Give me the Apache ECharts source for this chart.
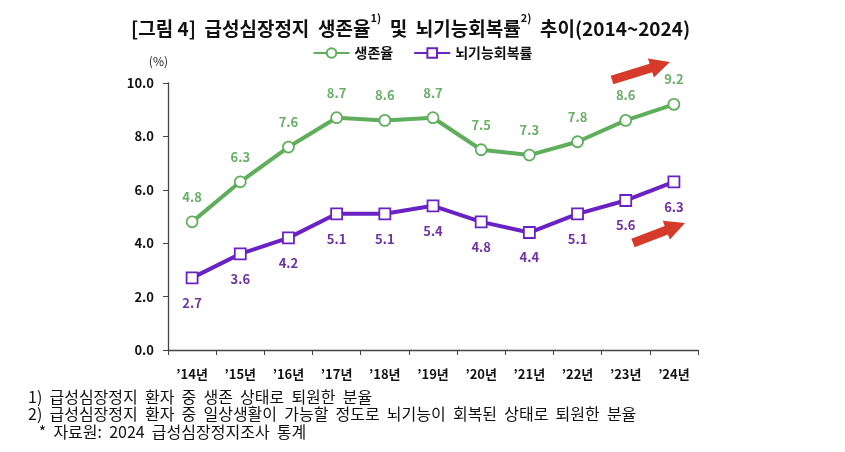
<!DOCTYPE html>
<html><head><meta charset="utf-8">
<script src="https://cdn.jsdelivr.net/npm/echarts@6/dist/echarts.min.js"></script>
<style>html,body{margin:0;padding:0;background:#fff}#c{width:845px;height:452px}</style>
</head><body><div id="c"></div>
<script>
const categories = ["’14년","’15년","’16년","’17년","’18년","’19년","’20년","’21년","’22년","’23년","’24년"];
const survival = [4.8,6.3,7.6,8.7,8.6,8.7,7.5,7.3,7.8,8.6,9.2];
const recovery = [2.7,3.6,4.2,5.1,5.1,5.4,4.8,4.4,5.1,5.6,6.3];
const yTicks = [0,2,4,6,8,10];
const seriesNames = ['생존율','뇌기능회복률'];
const notes = [
  '1)  급성심장정지  환자  중  생존  상태로  퇴원한  분율',
  '2)  급성심장정지  환자  중  일상생활이  가능할  정도로  뇌기능이  회복된  상태로  퇴원한  분율',
  '   *  자료원:  2024  급성심장정지조사  통계'
];
const FONT = '"Noto Sans CJK KR", "Noto Sans", sans-serif';
const GREEN = '#5fae5c', GREEN_T = '#6aae68', PURPLE = '#6a22c4', PURPLE_T = '#7030a0';

function arrow(x1,y1,x2,y2){
  const dx=x2-x1, dy=y2-y1, L=Math.hypot(dx,dy), ux=dx/L, uy=dy/L, nx=-uy, ny=ux;
  const sw=4.5, hw=10, hl=20;
  const bx=x2-ux*hl, by=y2-uy*hl;
  const pts=[[x1+nx*sw,y1+ny*sw],[bx+nx*sw,by+ny*sw],[bx+nx*hw,by+ny*hw],[x2,y2],[bx-nx*hw,by-ny*hw],[bx-nx*sw,by-ny*sw],[x1-nx*sw,y1-ny*sw]];
  return {type:'polygon',shape:{points:pts},style:{fill:'#d63a2a'},z:10};
}

const chart = echarts.init(document.getElementById('c'));
chart.setOption({
  backgroundColor:'#fff',
  animation:false,
  textStyle:{fontFamily:FONT},
  title:{
    text:'{a|[그림 4]  급성심장정지  생존율}{s|1)}{a|  및  뇌기능회복률}{s|2)}{a|  추이(2014~2024)}',
    left:126, top:7,
    textStyle:{rich:{
      a:{fontFamily:FONT,fontSize:19,fontWeight:'bold',color:'#111',lineHeight:26,verticalAlign:'bottom'},
      s:{fontFamily:FONT,fontSize:11,fontWeight:'bold',color:'#111',verticalAlign:'top',lineHeight:26,padding:[0,0,10,0]}
    }}
  },
  legend:{
    top:41, left:'center', itemWidth:36, itemHeight:12, itemGap:20,
    textStyle:{fontFamily:FONT,fontSize:14,fontWeight:'bold',color:'#111'},
    data:seriesNames
  },
  grid:{left:168,right:147,top:83,bottom:102,containLabel:false},
  xAxis:{
    type:'category', data:categories, boundaryGap:true,
    axisLine:{lineStyle:{color:'#444',width:1.3}},
    axisTick:{show:true,length:5,interval:0,lineStyle:{color:'#444'}},
    axisLabel:{margin:18,fontFamily:FONT,fontSize:13,fontWeight:'bold',color:'#111'}
  },
  yAxis:{
    type:'value', min:0, max:10, interval:2,
    name:'(%)', nameLocation:'end', nameGap:16, nameTextStyle:{fontFamily:FONT,fontSize:12,color:'#222',align:'right'},
    axisLine:{show:true,lineStyle:{color:'#444',width:1.3}},
    axisTick:{show:true,length:5,lineStyle:{color:'#444'}},
    splitLine:{show:false},
    axisLabel:{margin:14,fontFamily:FONT,fontSize:13,fontWeight:'bold',color:'#111',
      formatter:v=>yTicks.includes(v)?v.toFixed(1):''}
  },
  series:[
    {name:seriesNames[0],type:'line',data:survival,symbol:'circle',symbolSize:11,
     lineStyle:{color:GREEN,width:4},itemStyle:{color:'#fff',borderColor:GREEN,borderWidth:1.8},
     label:{show:true,position:'top',distance:12,formatter:p=>p.value.toFixed(1),fontFamily:FONT,fontSize:13,fontWeight:'bold',color:GREEN_T}},
    {name:seriesNames[1],type:'line',data:recovery,symbol:'rect',symbolSize:11,
     lineStyle:{color:PURPLE,width:4},itemStyle:{color:'#fff',borderColor:PURPLE,borderWidth:1.8},
     label:{show:true,position:'bottom',distance:12,formatter:p=>p.value.toFixed(1),fontFamily:FONT,fontSize:13,fontWeight:'bold',color:PURPLE_T}}
  ],
  graphic:[
    arrow(612,80,670,62),
    arrow(633,243,685,223),
    {type:'text',left:28,top:388,style:{text:notes.join('\n'),fontFamily:FONT,fontSize:16,lineHeight:17.5,fill:'#111'}}
  ]
});
</script></body></html>
